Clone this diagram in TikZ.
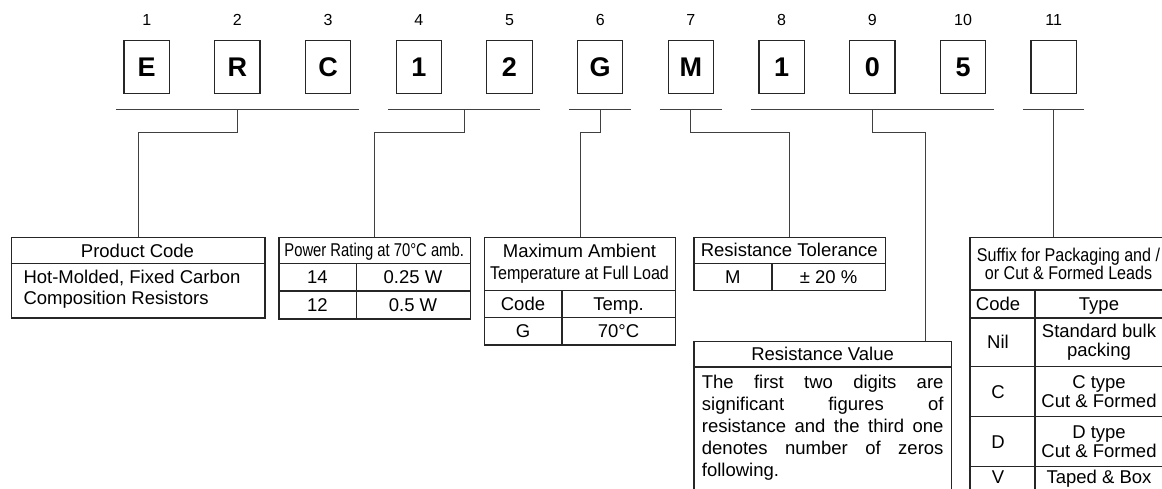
\documentclass[tikz,border=0pt]{standalone}
\usepackage{fontspec}
\setmainfont{Liberation Sans}
\newfontfamily\narrowfont[FakeStretch=0.80]{Liberation Sans}
\newfontfamily\semifont[FakeStretch=0.87]{Liberation Sans}
\usetikzlibrary{calc,positioning}

\tikzset{
	codebox/.style={draw=black!85, line width=1.2pt, minimum width=45.3pt,
		minimum height=52.6pt, inner sep=0pt, font=\fontsize{27}{30}\selectfont\bfseries},
	numlabel/.style={inner sep=0pt, font=\fontsize{16}{18}\selectfont},
	tablebox/.style={draw=black!85, line width=1.2pt, anchor=north west, inner sep=0pt},
	cell/.style={inner sep=0pt, text height=14pt, text depth=1pt,
		font=\fontsize{18.5}{21.7}\selectfont},
	mline/.style={inner sep=0pt, align=center, font=\fontsize{18.5}{18.3}\selectfont},
	rule/.style={draw=black!85, line width=1.1pt},
	conn/.style={draw=black!75, line width=1.1pt}
}

\begin{document}
\begin{tikzpicture}[x=1pt,y=-1pt]
\useasboundingbox (0,0) rectangle (1162,488);
\clip (0,0) rectangle (1162,488);

% Code characters and their positions
\foreach \ch [count=\i] in {E,R,C,1,2,G,M,1,0,5,{}} {
	\node[codebox] (b\i) at ({146.7+90.7*(\i-1)},67) {\ch};
	\node[numlabel] (n\i) at ({146.7+90.7*(\i-1)},20) {\i};
}

% Group line under boxes #1..#2
\def\groupline#1#2{
	\draw[conn] ([shift={(-7.5,15.2)}]b#1.south west) -- ([shift={(7.5,15.2)}]b#2.south east);
}
\groupline{1}{3}
\groupline{4}{5}
\groupline{6}{6}
\groupline{7}{7}
\groupline{8}{10}
\groupline{11}{11}

% Product code
\node[tablebox, minimum width=253.6pt, minimum height=80.6pt] (pc) at (10.7,236.7) {};
\draw[rule] (pc.west |- 0,263.3) -- (pc.east |- 0,263.3);
\node[cell] (pct) at (137.5,250.5) {Product Code};
\node[mline, align=left, anchor=west, font=\fontsize{18.5}{21.7}\selectfont] (pcb)
	at (23.3,289.2) {Hot-Molded, Fixed Carbon\\Composition Resistors};

% Power rating
\node[tablebox, minimum width=191.7pt, minimum height=81.6pt] (pr) at (278.3,236.7) {};
\draw[rule] (pr.west |- 0,263.3) -- (pr.east |- 0,263.3)
	(pr.west |- 0,291) -- (pr.east |- 0,291)
	(356.3,263.3) -- (356.3,318.3);
\node[cell] (prt) at (374.2,250) {\narrowfont Power Rating at 70°C amb.};
\node[cell] (pr1a) at (317.3,277.2) {14};
\node[cell] (pr1b) at (413,277.2) {0.25 W};
\node[cell] (pr2a) at (317.3,304.7) {12};
\node[cell] (pr2b) at (413,304.7) {0.5 W};

% Maximum ambient temperature
\node[tablebox, minimum width=191pt, minimum height=107.3pt] (ma) at (484,237) {};
\draw[rule] (ma.west |- 0,290.7) -- (ma.east |- 0,290.7)
	(ma.west |- 0,317.3) -- (ma.east |- 0,317.3)
	(562,290.7) -- (562,344.3);
\node[cell] (mat) at (579.5,251) {Maximum Ambient};
\node[cell] (mas) at (579.5,272.5) {\semifont Temperature at Full Load};
\node[cell] (ma1a) at (523,304) {Code};
\node[cell] (ma1b) at (618.5,304) {Temp.};
\node[cell] (ma2a) at (523,330.8) {G};
\node[cell] (ma2b) at (618.5,330.8) {70°C};

% Resistance tolerance
\node[tablebox, minimum width=191.7pt, minimum height=53pt] (rt) at (693.3,237) {};
\draw[rule] (rt.west |- 0,263.3) -- (rt.east |- 0,263.3)
	(772,263.3) -- (772,290);
\node[cell] (rtt) at (789.2,250) {Resistance Tolerance};
\node[cell] (rt1a) at (732.7,276.7) {M};
\node[cell] (rt1b) at (828.5,276.7) {± 20 \%};

% Resistance value
\node[tablebox, minimum width=257.4pt, minimum height=170pt] (rv) at (693.3,341) {};
\draw[rule] (rv.west |- 0,367) -- (rv.east |- 0,367);
\node[cell] (rvt) at (rv.north |- 0,354) {Resistance Value};
\node[anchor=north west, inner sep=0pt, text width=241.6pt, align=justify,
	font=\fontsize{18.5}{22.1}\selectfont] (rvb) at (701.7,374.5)
	{\noindent The first two digits are\linebreak significant figures of\linebreak
	resistance and the third one\linebreak denotes number of zeros\linebreak following.};
\coordinate (rvin) at ([xshift=-26.4pt]rv.north east);

% Suffix
\node[tablebox, minimum width=195pt, minimum height=260pt] (sf) at (969.3,237) {};
\draw[rule] (sf.west |- 0,290) -- (sf.east |- 0,290)
	(sf.west |- 0,318) -- (sf.east |- 0,318)
	(sf.west |- 0,366.7) -- (sf.east |- 0,366.7)
	(sf.west |- 0,416.7) -- (sf.east |- 0,416.7)
	(sf.west |- 0,466.7) -- (sf.east |- 0,466.7)
	(1035,290) -- (1035,497);
\node[cell] (sft) at (1068.5,254.5) {\semifont Suffix for Packaging and /};
\node[cell] (sfs) at (1068.5,272.8) {\semifont or Cut \& Formed Leads};
\node[cell] (sf1a) at (998,303.5) {Code};
\node[cell] (sf1b) at (1099,303.5) {Type};
\node[cell] (sf2a) at (998,342.3) {Nil};
\node[mline] (sf2b) at (1099,342.3) {Standard bulk\\packing};
\node[cell] (sf3a) at (998,391.7) {C};
\node[mline] (sf3b) at (1099,391.7) {C type\\Cut \& Formed};
\node[cell] (sf4a) at (998,441.7) {D};
\node[mline] (sf4b) at (1099,441.7) {D type\\Cut \& Formed};
\node[cell] (sf5a) at (998,476.5) {V};
\node[cell] (sf5b) at (1099,476.5) {Taped \& Box};

% Connectors
\coordinate (k1) at ([shift={(0,15.2)}]b2.south);
\coordinate (k2) at ($(b4.south)!0.5!(b5.south)+(0,15.2)$);
\coordinate (k3) at ([shift={(0,15.2)}]b6.south);
\coordinate (k4) at ([shift={(0,15.2)}]b7.south);
\coordinate (k5) at ([shift={(0,15.2)}]b9.south);
\coordinate (k6) at ([shift={(0,15.2)}]b11.south);
\draw[conn] (k1) -- ++(0,23) -| (pc.north);
\draw[conn] (k2) -- ++(0,23) -| (pr.north);
\draw[conn] (k3) -- ++(0,23) -| (ma.north);
\draw[conn] (k4) -- ++(0,23) -| (rt.north);
\draw[conn] (k5) -- ++(0,23) -| (rvin);
\draw[conn] (k6) -- (k6 |- sf.north);

\end{tikzpicture}
\end{document}
